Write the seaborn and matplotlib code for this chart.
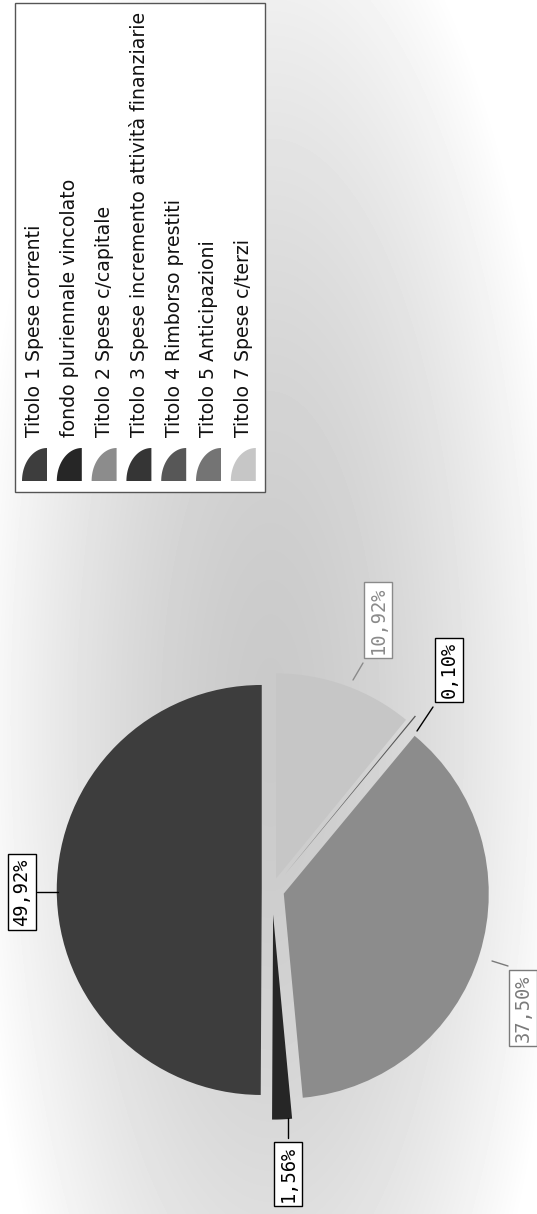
import numpy as np
import matplotlib
matplotlib.use("Agg")
import matplotlib.pyplot as plt
from matplotlib.patches import Rectangle, Polygon
import seaborn as sns

# ---- data ----
categories = [
    "Titolo 1 Spese correnti",
    "fondo pluriennale vincolato",
    "Titolo 2 Spese c/capitale",
    "Titolo 3 Spese incremento attività finanziarie",
    "Titolo 4 Rimborso prestiti",
    "Titolo 5 Anticipazioni",
    "Titolo 7 Spese c/terzi",
]
shares = [49.92, 1.56, 37.50, 0.0, 0.10, 0.0, 10.92]
slice_colors = ["#3d3d3d", "#262626", "#8c8c8c", "#353535", "#575757", "#747474", "#c6c6c6"]
explode_frac = [0.05, 0.12, 0.06, 0.0, 0.10, 0.0, 0.06]

sns.set_theme(style="white")
plt.rcParams['font.family'] = ['DejaVu Sans']

W, H = 537, 1214
fig = plt.figure(figsize=(W / 100, H / 100), dpi=100)
ax = fig.add_axes([0, 0, 1, 1])

# background glow
yy, xx = np.mgrid[0:H, 0:W]
d = np.sqrt(((xx - 270) / 300.0) ** 2 + ((yy - 720) / 900.0) ** 2)
bg = 0.79 + 0.21 * np.clip(d, 0, 1) ** 1.6
ax.imshow(bg, extent=(0, W, H, 0), cmap='gray', vmin=0, vmax=1, zorder=0,
          interpolation='bilinear', aspect='auto')

cx, cy, R = 272, 890, 205
palette = sns.color_palette(slice_colors)
wedges, _ = ax.pie(shares, colors=palette, explode=[e * R for e in explode_frac],
                   startangle=-90, counterclock=False, center=(cx, cy), radius=R,
                   wedgeprops=dict(linewidth=0))
for w in wedges:
    w.set_zorder(2)

ax.set_xlim(0, W)
ax.set_ylim(H, 0)
ax.set_aspect('auto')
ax.axis('off')

# data labels (chart is rotated 90 degrees)
label_layout = {
    0: dict(pos=(22, 892), line=((37, 892), (58, 892)), color='black'),
    1: dict(pos=(288, 1174), line=((288, 1118), (288, 1138)), color='black'),
    2: dict(pos=(523, 1008), line=((492, 961), (508, 966)), color='#7a7a7a'),
    4: dict(pos=(449, 670), line=((433, 707), (417, 731)), color='black'),
    6: dict(pos=(378, 620), line=((363, 663), (353, 680)), color='#8a8a8a'),
}
for i, lay in label_layout.items():
    txt = f"{shares[i]:.2f}%".replace('.', ',')
    (x0, y0), (x1, y1) = lay['line']
    ax.plot([x0, x1], [y0, y1], color=lay['color'], lw=1, zorder=4)
    ax.text(lay['pos'][0], lay['pos'][1], txt, rotation=90, ha='center', va='center',
            family=['DejaVu Sans Mono'], fontsize=13.5, color=lay['color'], zorder=5,
            bbox=dict(boxstyle='square,pad=0.22', fc='white', ec=lay['color'], lw=1))

# legend (rotated)
ax.add_patch(Rectangle((15, 3), 250, 489, fc='white', ec='#555555', lw=1, zorder=3))
theta = np.linspace(np.pi / 2, np.pi, 30)
leg_texts = []
for i, (name, col) in enumerate(zip(categories, palette)):
    xc = 35 + 34.8 * i
    bx, by = xc + 12, 481
    pts = [(bx, by)] + [(bx + 25 * np.cos(t), by - 33 * np.sin(t)) for t in theta]
    ax.add_patch(Polygon(pts, closed=True, fc=col, ec='none', zorder=4))
    leg_texts.append(ax.text(xc, 437, name, rotation=90, ha='center', va='bottom',
                             fontsize=12, color='#111111', zorder=5))

# scale legend font so the longest entry spans the legend height as in the reference
fig.canvas.draw()
renderer = fig.canvas.get_renderer()
longest = max(t.get_window_extent(renderer).height for t in leg_texts)
fs = 12 * 422.0 / longest
for t in leg_texts:
    t.set_fontsize(fs)

fig.savefig("out.png", dpi=100)
